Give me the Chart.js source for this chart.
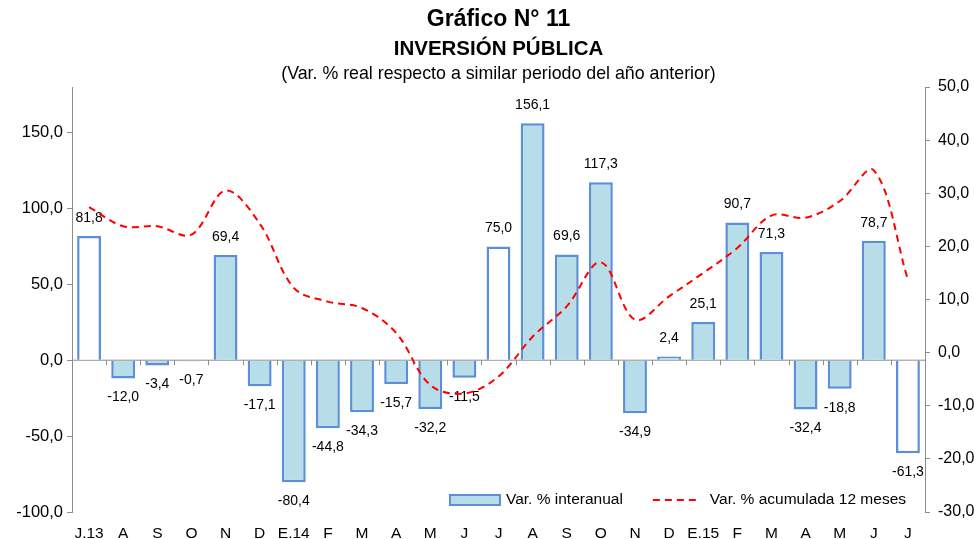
<!DOCTYPE html>
<html>
<head>
<meta charset="utf-8">
<script src="https://cdn.jsdelivr.net/npm/chart.js@4"></script>
<style>
    html, body { margin: 0; padding: 0; background: #fff; }
    #wrap { width: 974px; height: 539px; }
</style>
</head>
<body>
<div id="wrap"><canvas id="grafico"></canvas></div>
<script>
// Inversión pública - variación interanual y acumulada 12 meses

const categories = ['J.13', 'A', 'S', 'O', 'N', 'D', 'E.14', 'F', 'M', 'A', 'M', 'J',
    'J', 'A', 'S', 'O', 'N', 'D', 'E.15', 'F', 'M', 'A', 'M', 'J', 'J'];

// Var. % interanual (eje izquierdo)
const interanual = [81.8, -12.0, -3.4, -0.7, 69.4, -17.1, -80.4, -44.8, -34.3, -15.7, -32.2, -11.5,
    75.0, 156.1, 69.6, 117.3, -34.9, 2.4, 25.1, 90.7, 71.3, -32.4, -18.8, 78.7, -61.3];

// Var. % acumulada 12 meses (eje derecho)
const acumulada = [27.4, 23.8, 23.8, 22.2, 30.5, 24.3, 12.2, 9.6, 8.4, 3.7, -6.1, -7.7,
    -4.5, 3.0, 8.7, 17.0, 6.2, 10.6, 15.0, 19.7, 25.8, 25.4, 28.5, 34.3, 13.7];

// months shown with hollow bars (July of each year)
const hollowMonths = [0, 12, 24];

const leftTicks = [-100, -50, 0, 50, 100, 150];
const titleLines = ['Gráfico N° 11', 'INVERSIÓN PÚBLICA', '(Var. % real respecto a similar periodo del año anterior)'];

const FONT = "'Liberation Sans', Arial, sans-serif";
const BAR_FILL = '#b7dde8';
const BAR_BORDER = '#5b8fd8';
const AXIS_GRAY = '#8c8c8c';

const fmt = v => v.toFixed(1).replace('.', ',');

// titles over the plot area
const titlePlugin = {
    id: 'titles',
    afterDraw(chart) {
        const ctx = chart.ctx;
        const cx = (chart.chartArea.left + chart.chartArea.right) / 2;
        ctx.save();
        ctx.fillStyle = '#000';
        ctx.textAlign = 'center';
        ctx.textBaseline = 'middle';
        ctx.font = 'bold 23px ' + FONT;
        ctx.fillText(titleLines[0], cx, 20);
        ctx.font = 'bold 20.5px ' + FONT;
        ctx.fillText(titleLines[1], cx, 49);
        ctx.font = '17.8px ' + FONT;
        ctx.fillText(titleLines[2], cx, 74);
        ctx.restore();
    }
};

// horizontal axis at zero with small tick marks between months
const zeroAxisPlugin = {
    id: 'zeroAxis',
    beforeDatasetsDraw(chart) {
        const { ctx, chartArea, scales } = chart;
        const y0 = scales.y.getPixelForValue(0);
        const step = scales.x.getPixelForValue(1) - scales.x.getPixelForValue(0);
        ctx.save();
        ctx.strokeStyle = AXIS_GRAY;
        ctx.lineWidth = 1;
        ctx.beginPath();
        ctx.moveTo(chartArea.left, y0);
        ctx.lineTo(chartArea.right, y0);
        for (let i = 0; i <= categories.length; i++) {
            const x = Math.round(scales.x.getPixelForValue(i) - step / 2) + 0.5;
            ctx.moveTo(x, y0);
            ctx.lineTo(x, y0 + 5);
        }
        ctx.stroke();
        ctx.restore();
    }
};

// value labels on the bars, drawn before the line so it stays on top
const barLabelPlugin = {
    id: 'barLabels',
    afterDatasetDraw(chart, args) {
        if (args.meta.type !== 'bar') return;
        const ctx = chart.ctx;
        ctx.save();
        ctx.font = '14px ' + FONT;
        ctx.fillStyle = '#000';
        ctx.textAlign = 'center';
        ctx.textBaseline = 'middle';
        args.meta.data.forEach((bar, i) => {
            const v = interanual[i];
            const y = v >= 0 ? bar.y - 18 : bar.y + 19;
            ctx.fillText(fmt(v), bar.x, y);
        });
        ctx.restore();
    }
};

// legend inside the plot, bottom right
const legendPlugin = {
    id: 'insideLegend',
    afterDraw(chart) {
        const { ctx, chartArea } = chart;
        const barSet = chart.data.datasets[1];
        const lineSet = chart.data.datasets[0];
        ctx.save();
        ctx.font = '15.5px ' + FONT;
        ctx.textBaseline = 'middle';
        ctx.fillStyle = '#000';
        const yc = chartArea.bottom - 12;
        const w1 = ctx.measureText(barSet.label).width;
        const w2 = ctx.measureText(lineSet.label).width;
        let x = chartArea.right - 19 - (50 + 6 + w1 + 30 + 47 + 10 + w2);
        ctx.fillStyle = BAR_FILL;
        ctx.fillRect(x, yc - 5, 50, 10);
        ctx.strokeStyle = BAR_BORDER;
        ctx.lineWidth = 2;
        ctx.strokeRect(x, yc - 5, 50, 10);
        x += 56;
        ctx.fillStyle = '#000';
        ctx.fillText(barSet.label, x, yc);
        x += w1 + 30;
        ctx.strokeStyle = lineSet.borderColor;
        ctx.setLineDash(lineSet.borderDash);
        ctx.beginPath();
        ctx.moveTo(x, yc);
        ctx.lineTo(x + 47, yc);
        ctx.stroke();
        ctx.setLineDash([]);
        x += 57;
        ctx.fillText(lineSet.label, x, yc);
        ctx.restore();
    }
};

const ctx = document.getElementById('grafico');

new Chart(ctx, {
    data: {
        labels: categories,
        datasets: [{
            type: 'line',
            label: 'Var. % acumulada 12 meses',
            data: acumulada,
            yAxisID: 'y1',
            borderColor: '#ff0000',
            borderWidth: 2,
            borderDash: [7, 5],
            pointRadius: 0,
            tension: 0.35,
            fill: false,
            order: 0
        }, {
            type: 'bar',
            label: 'Var. % interanual',
            data: interanual,
            yAxisID: 'y',
            backgroundColor: categories.map((c, i) => hollowMonths.includes(i) ? '#ffffff' : BAR_FILL),
            borderColor: BAR_BORDER,
            borderWidth: 2.5,
            barPercentage: 0.7,
            categoryPercentage: 1,
            order: 1
        }]
    },
    options: {
        responsive: true,
        maintainAspectRatio: false,
        animation: false,
        layout: { padding: { top: 87, left: 0, right: 0, bottom: 0 } },
        plugins: {
            legend: { display: false },
            title: { display: false },
            tooltip: { enabled: false }
        },
        scales: {
            x: {
                grid: { display: false },
                border: { display: false },
                ticks: {
                    color: '#000',
                    font: { family: FONT, size: 15.5 },
                    padding: 4,
                    autoSkip: false,
                    maxRotation: 0
                },
                afterFit: s => { s.height = 27; }
            },
            y: {
                position: 'left',
                min: -100,
                max: 180,
                afterBuildTicks: s => { s.ticks = leftTicks.map(v => ({ value: v })); },
                grid: { drawOnChartArea: false, tickLength: 5, tickColor: AXIS_GRAY },
                border: { color: AXIS_GRAY, width: 1 },
                ticks: {
                    color: '#000',
                    font: { family: FONT, size: 16.5 },
                    padding: 4,
                    callback: v => fmt(v)
                },
                afterFit: s => { s.width = 72; }
            },
            y1: {
                position: 'right',
                min: -30,
                max: 50,
                ticks: {
                    stepSize: 10,
                    color: '#000',
                    font: { family: FONT, size: 16 },
                    padding: 8,
                    callback: v => fmt(v)
                },
                grid: { drawOnChartArea: false, tickLength: 5, tickColor: AXIS_GRAY },
                border: { color: AXIS_GRAY, width: 1 },
                afterFit: s => { s.width = 49; }
            }
        }
    },
    plugins: [zeroAxisPlugin, barLabelPlugin, legendPlugin, titlePlugin]
});
</script>
</body>
</html>
